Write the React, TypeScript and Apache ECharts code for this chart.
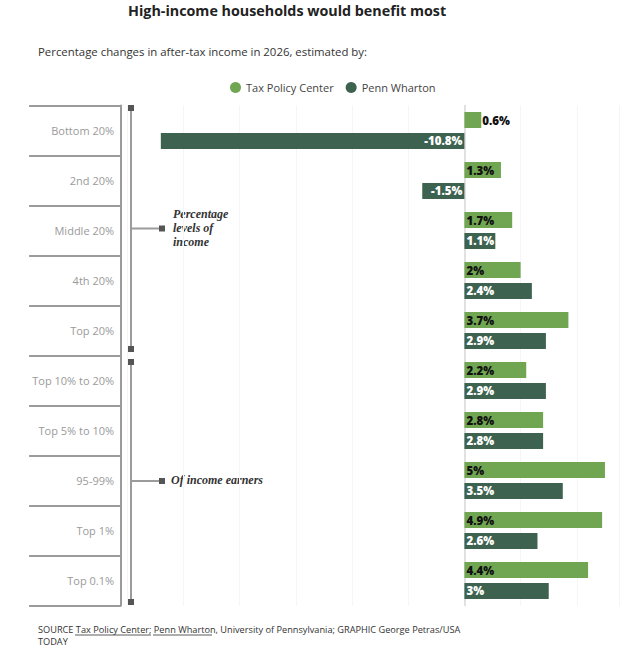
import React, { useEffect, useRef } from "react";
import * as echarts from "echarts";

const categories = [
  "Bottom 20%",
  "2nd 20%",
  "Middle 20%",
  "4th 20%",
  "Top 20%",
  "Top 10% to 20%",
  "Top 5% to 10%",
  "95-99%",
  "Top 1%",
  "Top 0.1%",
];
const taxPolicyCenter = [0.6, 1.3, 1.7, 2, 3.7, 2.2, 2.8, 5, 4.9, 4.4];
const pennWharton = [-10.8, -1.5, 1.1, 2.4, 2.9, 2.9, 2.8, 3.5, 2.6, 3];
const seriesNames = ["Tax Policy Center", "Penn Wharton"];

const GREEN = "#70a552";
const DARK = "#3d6350";
const FONT = "'Open Sans', sans-serif";

export default function App() {
  const ref = useRef<HTMLDivElement>(null);
  useEffect(() => {
    if (!ref.current) return;
    const chart = echarts.init(ref.current, undefined, { renderer: "svg" });
    const labelBase = { show: true, fontFamily: FONT, fontWeight: 800, fontSize: 11.5, distance: 2, formatter: (p: any) => p.value + "%" };
    const tpcData = taxPolicyCenter.map((v) => ({
      value: v,
      label: { position: v < 1 ? "right" : "insideLeft", distance: v < 1 ? 1 : 2 },
    }));
    const pwData = pennWharton.map((v) => ({
      value: v,
      label: { position: v < 0 ? "insideRight" : "insideLeft" },
    }));
    const gray = "#9b9b9b";
    const sq = "#555555";
    const square = (x: number, y: number) => ({
      type: "rect",
      shape: { x: x - 3, y: y - 3, width: 6, height: 6 },
      style: { fill: sq },
    });
    const vline = (x: number, y1: number, y2: number) => ({
      type: "line",
      shape: { x1: x, y1, x2: x, y2 },
      style: { stroke: gray, lineWidth: 2 },
    });
    const hline = (x1: number, x2: number, y: number, w = 2, c = gray) => ({
      type: "line",
      shape: { x1, y1: y, x2, y2: y },
      style: { stroke: c, lineWidth: w },
    });
    const annoStyle = {
      fill: "#333",
      fontFamily: "'Liberation Serif', serif",
      fontStyle: "italic",
      fontWeight: "bold",
      fontSize: 12,
    };
    chart.setOption({
      animation: false,
      legend: {
        data: seriesNames,
        left: 225,
        top: 77,
        icon: "circle",
        itemWidth: 11,
        itemHeight: 11,
        itemGap: 12,
        textStyle: { fontFamily: FONT, fontSize: 11, color: "#444" },
      },
      grid: { left: 127.1, right: 7, top: 105.5, height: 500, containLabel: false },
      xAxis: {
        type: "value",
        min: -12,
        max: 5.5,
        interval: 2,
        axisLabel: { show: false },
        axisLine: { show: false },
        axisTick: { show: false },
        splitLine: { lineStyle: { color: "#f5f5f5", width: 1 } },
      },
      yAxis: [
        {
          type: "category",
          data: categories,
          inverse: true,
          axisLabel: { show: false },
          axisTick: { show: false },
          axisLine: { show: true, onZero: true, lineStyle: { color: "#d9d9d9", width: 1.5 } },
        },
        {
          type: "category",
          data: categories,
          inverse: true,
          position: "left",
          offset: 6,
          axisLine: { show: true, onZero: false, lineStyle: { color: gray, width: 2 } },
          axisTick: { show: true, length: 92, lineStyle: { color: gray, width: 2 } },
          axisLabel: { margin: 7, fontFamily: FONT, fontSize: 11, color: "#9a9a9a" },
        },
      ],
      series: [
        {
          name: seriesNames[0],
          type: "bar",
          yAxisIndex: 0,
          barWidth: 16,
          barGap: "31%",
          itemStyle: { color: GREEN },
          label: { ...labelBase, color: "#111" },
          data: tpcData,
        },
        {
          name: seriesNames[1],
          type: "bar",
          yAxisIndex: 0,
          barWidth: 16,
          barGap: "31%",
          itemStyle: { color: DARK },
          label: { ...labelBase, color: "#fff" },
          data: pwData,
        },
      ],
      graphic: [
        {
          type: "text",
          left: 128,
          top: 3,
          style: { text: "High-income households would benefit most", fill: "#222", fontFamily: FONT, fontWeight: "bold", fontSize: 14.3 },
        },
        {
          type: "text",
          left: 38,
          top: 46,
          style: { text: "Percentage changes in after-tax income in 2026, estimated by:", fill: "#333", fontFamily: FONT, fontSize: 11.4 },
        },
        vline(131, 108, 349),
        square(131, 108),
        square(131, 349),
        vline(131, 362, 602),
        square(131, 362),
        square(131, 602),
        hline(131, 162, 228.5),
        square(162, 228.5),
        hline(131, 162, 481),
        square(162, 481),
        {
          type: "text",
          x: 173,
          y: 207,
          style: { ...annoStyle, text: "Percentage\nlevels of\nincome", lineHeight: 14 },
        },
        {
          type: "text",
          x: 171,
          y: 474,
          style: { ...annoStyle, text: "Of income earners" },
        },
        {
          type: "text",
          x: 38,
          y: 623,
          style: {
            text: "SOURCE Tax Policy Center; Penn Wharton, University of Pennsylvania; GRAPHIC George Petras/USA\nTODAY",
            fill: "#333",
            fontFamily: FONT,
            fontSize: 9.2,
            lineHeight: 12,
          },
        },
        hline(75, 151, 635, 0.8, "#333"),
        hline(153, 212, 635, 0.8, "#333"),
      ],
    });
    return () => chart.dispose();
  }, []);
  return <div ref={ref} style={{ position: "absolute", left: 0, top: 0, width: 626, height: 654 }} />;
}
